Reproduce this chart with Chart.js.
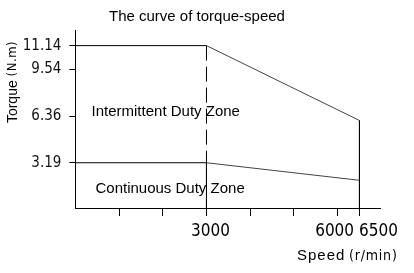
<!DOCTYPE html>
<html>
<head>
<meta charset="utf-8">
<script src="https://cdn.jsdelivr.net/npm/chart.js@4.4.0/dist/chart.umd.min.js"></script>
<style>
  html, body { margin: 0; padding: 0; background: #fff; }
  #wrap { width: 414px; height: 273px; }
</style>
</head>
<body>
<div id="wrap"><canvas id="torque_chart"></canvas></div>
<script>
// torque-speed curve data
var speed = [0, 3000, 6500];
var peakTorque = [11.14, 11.14, 6.06];
var ratedTorque = [3.19, 3.19, 2.0];
var yTickValues = [3.19, 6.36, 9.54, 11.14];
var xTickValues = [1000, 2000, 3000, 4000, 5000, 6000, 6500];
var xTickLabels = [3000, 6000, 6500];
var yMin = 0.12, yMax = 12.2, xMax = 6970;

var SANS = '"Liberation Sans", Arial, sans-serif';
var NARROW = '"Liberation Sans Narrow", "Arial Narrow", "DejaVu Sans Condensed", sans-serif';

function pts(xs, ys) {
    return xs.map(function (x, i) { return { x: x, y: ys[i] }; });
}

// black for the flat part, grey for the falling part
function segColor(c) {
    return c.p0DataIndex === 0 ? '#000' : '#444';
}

var labelsPlugin = {
    id: 'labels',
    afterDraw: function (chart) {
        var c = chart.ctx;
        var xs = chart.scales.x, ys = chart.scales.y;
        c.save();
        c.fillStyle = '#000';
        c.textBaseline = 'middle';

        // title
        c.font = '15px ' + SANS;
        c.textAlign = 'left';
        c.fillText('The curve of torque-speed', 109, 17);

        // zone labels
        c.fillText('Intermittent Duty Zone', xs.getPixelForValue(370), ys.getPixelForValue(6.65));
        c.fillText('Continuous Duty Zone', xs.getPixelForValue(460), ys.getPixelForValue(1.45));

        // x tick labels
        c.font = '17px ' + NARROW;
        c.textAlign = 'center';
        var shift = { 3000: 4, 6000: -3, 6500: 19 };
        xTickLabels.forEach(function (v) {
            c.fillText(String(v), xs.getPixelForValue(v) + shift[v], 232);
        });

        // x axis title
        c.textAlign = 'left';
        c.font = '15px ' + SANS;
        c.letterSpacing = '1px';
        c.fillText('Speed', 297, 256);
        c.font = '14px ' + NARROW;
        c.letterSpacing = '0.8px';
        c.fillText('(r/min)', 349, 256);

        // y axis title, rotated
        c.translate(13, 82);
        c.rotate(-Math.PI / 2);
        c.letterSpacing = '0px';
        c.font = '14px ' + SANS;
        var w1 = c.measureText('Torque ').width;
        c.font = '13px ' + NARROW;
        c.letterSpacing = '0.5px';
        var w2 = c.measureText('(N.m)').width;
        var x0 = -(w1 + w2) / 2;
        c.font = '14px ' + SANS;
        c.letterSpacing = '0px';
        c.fillText('Torque ', x0, 0);
        c.font = '13px ' + NARROW;
        c.letterSpacing = '0.5px';
        c.fillText('(N.m)', x0 + w1, 0);
        c.restore();
    }
};

var ctx = document.getElementById('torque_chart').getContext('2d');

var chart = new Chart(ctx, {
    type: 'line',
    data: {
        datasets: [
            {
                label: 'Intermittent',
                data: pts(speed, peakTorque),
                borderWidth: 1,
                segment: { borderColor: segColor }
            },
            {
                label: 'Continuous',
                data: pts(speed, ratedTorque),
                borderWidth: 1,
                segment: { borderColor: segColor }
            },
            {
                // rated speed boundary, dashed between the two curves
                label: 'rated dash',
                data: pts([speed[1], speed[1]], [peakTorque[1], ratedTorque[1]]),
                borderColor: '#000',
                borderWidth: 1,
                borderDash: [15, 6]
            },
            {
                label: 'rated solid',
                data: pts([speed[1], speed[1]], [ratedTorque[1], yMin]),
                borderColor: '#000',
                borderWidth: 1
            },
            {
                // max speed boundary
                label: 'max speed',
                data: pts([speed[2], speed[2]], [peakTorque[2], yMin]),
                borderColor: '#000',
                borderWidth: 1
            }
        ]
    },
    options: {
        responsive: true,
        maintainAspectRatio: false,
        animation: false,
        events: [],
        // the fractional left padding puts the 3000 / 6500 lines on whole pixels
        layout: { padding: { left: 0.36, right: 34, top: 30, bottom: 0 } },
        elements: { point: { radius: 0 }, line: { tension: 0 } },
        plugins: {
            legend: { display: false },
            title: { display: false },
            tooltip: { enabled: false }
        },
        scales: {
            x: {
                type: 'linear',
                min: 0,
                max: xMax,
                afterBuildTicks: function (s) {
                    s.ticks = xTickValues.map(function (v) { return { value: v }; });
                },
                afterFit: function (s) { s.height = 65; },
                ticks: { display: false },
                grid: { drawOnChartArea: false, tickLength: 8, color: '#000', tickWidth: 1 },
                border: { display: true, color: '#000', width: 1 }
            },
            y: {
                type: 'linear',
                min: yMin,
                max: yMax,
                afterBuildTicks: function (s) {
                    s.ticks = yTickValues.map(function (v) { return { value: v }; });
                },
                afterFit: function (s) { s.width = 75; },
                ticks: {
                    color: '#111',
                    padding: 8,
                    font: { family: NARROW, size: 15 },
                    callback: function (v) { return v.toFixed(2); }
                },
                grid: { drawOnChartArea: false, tickLength: 6, color: '#000', tickWidth: 1 },
                border: { display: true, color: '#000', width: 1 }
            }
        }
    },
    plugins: [labelsPlugin]
});
</script>
</body>
</html>
